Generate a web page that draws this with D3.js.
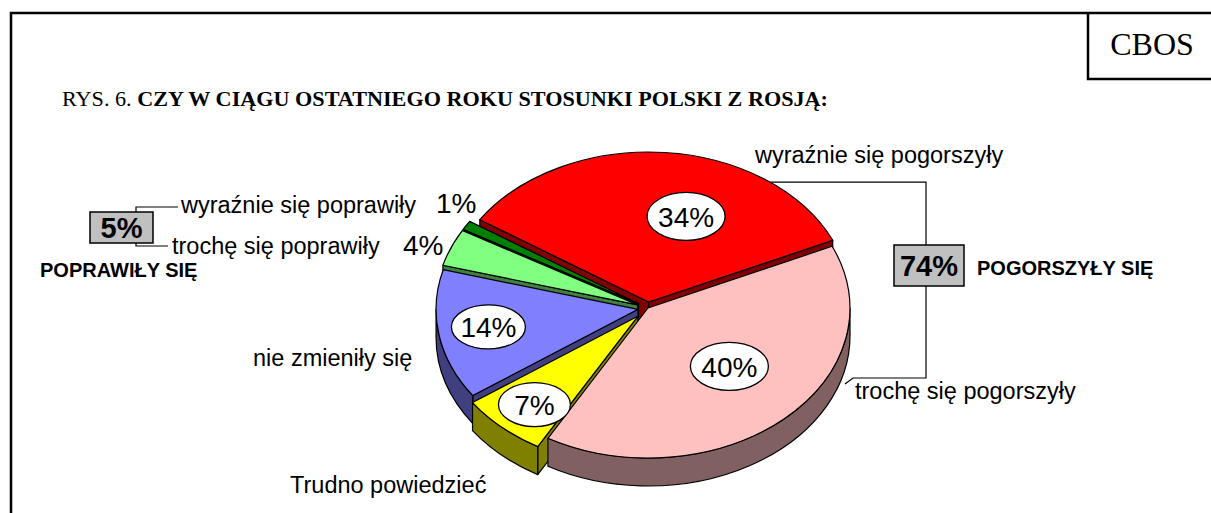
<!DOCTYPE html>
<html lang="pl">
<head>
<meta charset="UTF-8">
<title>CBOS - Rys. 6</title>
<style>
  body { margin: 0; background: #fff; }
  svg { display: block; }
  .sans { font-family: "Liberation Sans", Arial, sans-serif; }
  .serif { font-family: "Liberation Serif", "Times New Roman", serif; }
</style>
</head>
<body>
<div id="graphic"></div>
<script src="https://cdn.jsdelivr.net/npm/d3@7"></script>
<script>
var width = 1211, height = 513;

// slices, clockwise starting from the red one
var categories = ['wyraźnie się pogorszyły', 'trochę się pogorszyły', 'Trudno powiedzieć',
                  'nie zmieniły się', 'trochę się poprawiły', 'wyraźnie się poprawiły'];
var values = [34, 40, 7, 14, 4, 1];
var colors = ['#ff0000', '#ffc0c0', '#ffff00', '#8080ff', '#80ff80', '#008000'];
var groupLabels = ['POGORSZYŁY SIĘ', 'POPRAWIŁY SIĘ'];
var titleNormal = 'RYS. 6. ';
var titleBold = 'CZY W CIĄGU OSTATNIEGO ROKU STOSUNKI POLSKI Z ROSJĄ:';

// pie geometry (3d look)
var cx = 648, cy = 308, rx = 202, ry = 150, depth = 28;
var startDeg = -56.7;
var explode = [0.04, 0, 0.075, 0.05, 0.055, 0.055];

// label layout: inside ellipses [radius fraction, screen angle] or null
var inLabel = [[0.6, -72], [0.56, 44], [0.78, 131], [0.75, 171], null, null];
var inSize = [[39, 24], [39, 24], [36, 22], [37, 22]];
// outside text labels [x, baseline]
var outLabel = [[755, 163], [855, 399], [290, 493], [253, 366], [172, 254], [181, 213]];
var outPct = [null, null, null, null, [403, 255], [436, 213]];

var svg = d3.select('#graphic').append('svg')
    .attr('width', width).attr('height', height);

// frame
svg.append('path')
    .attr('d', 'M11,513 L11,13 L1211,13 M1088,13 L1088,79 L1211,79')
    .attr('fill', 'none').attr('stroke', '#000').attr('stroke-width', 2.5);

svg.append('text').attr('class', 'serif')
    .attr('x', 1152).attr('y', 55).attr('text-anchor', 'middle')
    .attr('font-size', 32).text('CBOS');

var title = svg.append('text').attr('class', 'serif')
    .attr('x', 62).attr('y', 106).attr('font-size', 21)
    .attr('textLength', 766).attr('lengthAdjust', 'spacingAndGlyphs');
title.append('tspan').text(titleNormal);
title.append('tspan').attr('font-weight', 'bold').text(titleBold);

// pie
var pie = d3.pie().sort(null).value(function(d) { return d; })
    .startAngle(startDeg * Math.PI / 180)
    .endAngle(startDeg * Math.PI / 180 + 2 * Math.PI);
var arcs = pie(values);

arcs.forEach(function(d, i) {
    var mid = (d.startAngle + d.endAngle) / 2;
    d.off = [explode[i] * rx * Math.sin(mid), -explode[i] * ry * Math.cos(mid)];
    d.color = colors[i];
    var c = d3.rgb(colors[i]);
    d.side = d3.rgb(c.r / 2, c.g / 2, c.b / 2).toString();
});

function pt(d, a, dz) {
    return [cx + d.off[0] + rx * Math.sin(a), cy + d.off[1] - ry * Math.cos(a) + (dz || 0)];
}
function apex(d, dz) {
    return [cx + d.off[0], cy + d.off[1] + (dz || 0)];
}

// side faces: radial cuts and the front rim
var sides = [];
arcs.forEach(function(d) {
    [[d.startAngle, Math.sin(d.startAngle) < 0], [d.endAngle, Math.sin(d.endAngle) > 0]].forEach(function(e) {
        if (!e[1]) return;
        var a = e[0], r = pt(d, a), c = apex(d);
        sides.push({
            key: (r[1] + c[1]) / 2,
            fill: d.side,
            path: 'M' + c + 'L' + r + 'L' + pt(d, a, depth) + 'L' + apex(d, depth) + 'Z'
        });
    });
    var s = Math.max(d.startAngle, Math.PI / 2), e = Math.min(d.endAngle, 3 * Math.PI / 2);
    if (e > s) {
        sides.push({
            key: pt(d, (s + e) / 2)[1],
            fill: d.side,
            path: 'M' + pt(d, s) + 'A' + rx + ',' + ry + ' 0 0 1 ' + pt(d, e) +
                  'L' + pt(d, e, depth) + 'A' + rx + ',' + ry + ' 0 0 0 ' + pt(d, s, depth) + 'Z'
        });
    }
});
sides.sort(function(a, b) { return a.key - b.key; });

svg.append('g').selectAll('path.side')
    .data(sides)
    .join('path')
    .attr('class', 'side')
    .attr('d', function(d) { return d.path; })
    .attr('fill', function(d) { return d.fill; })
    .attr('stroke', '#000').attr('stroke-width', 1.2).attr('stroke-linejoin', 'round');

svg.append('g').selectAll('path.top')
    .data(arcs)
    .join('path')
    .attr('class', 'top')
    .attr('d', function(d) {
        var large = d.endAngle - d.startAngle > Math.PI ? 1 : 0;
        return 'M' + apex(d) + 'L' + pt(d, d.startAngle) + 'A' + rx + ',' + ry + ' 0 ' + large + ' 1 ' +
               pt(d, d.endAngle) + 'Z';
    })
    .attr('fill', function(d) { return d.color; })
    .attr('stroke', '#000').attr('stroke-width', 1.2).attr('stroke-linejoin', 'round');

// leader lines and group boxes
var redLead = pt(arcs[0], 37 * Math.PI / 180);
svg.append('path')
    .attr('d', 'M' + redLead + 'L926,' + redLead[1] + 'L926,378 L853,378 L845,384' +
               'M178,207 L136,207 L136,246 L168,246')
    .attr('fill', 'none').attr('stroke', '#000').attr('stroke-width', 1.2);

var groups = [
    { v: d3.sum(values.slice(0, 2)), box: [894, 245, 70, 41], label: groupLabels[0], lx: 977, ly: 275 },
    { v: d3.sum(values.slice(4, 6)), box: [90, 212, 63, 31], label: groupLabels[1], lx: 40, ly: 277 }
];
groups.forEach(function(g) {
    svg.append('rect')
        .attr('x', g.box[0]).attr('y', g.box[1]).attr('width', g.box[2]).attr('height', g.box[3])
        .attr('fill', '#c0c0c0').attr('stroke', '#000').attr('stroke-width', 1.5);
    svg.append('text').attr('class', 'sans')
        .attr('x', g.box[0] + g.box[2] / 2).attr('y', g.box[1] + g.box[3] / 2 + 10.5)
        .attr('text-anchor', 'middle').attr('font-size', 29).attr('font-weight', 'bold')
        .text(g.v + '%');
    svg.append('text').attr('class', 'sans')
        .attr('x', g.lx).attr('y', g.ly)
        .attr('font-size', 20).attr('font-weight', 'bold')
        .text(g.label);
});

// percentages in white ellipses
arcs.forEach(function(d, i) {
    if (!inLabel[i]) return;
    var t = inLabel[i][1] * Math.PI / 180;
    var x = cx + d.off[0] + inLabel[i][0] * rx * Math.cos(t);
    var y = cy + d.off[1] + inLabel[i][0] * ry * Math.sin(t);
    svg.append('ellipse')
        .attr('cx', x).attr('cy', y).attr('rx', inSize[i][0]).attr('ry', inSize[i][1])
        .attr('fill', '#fff').attr('stroke', '#000').attr('stroke-width', 1.3);
    svg.append('text').attr('class', 'sans')
        .attr('x', x).attr('y', y + 10.5).attr('text-anchor', 'middle')
        .attr('font-size', 28).text(values[i] + '%');
});

// category names
svg.append('g').selectAll('text.cat')
    .data(categories)
    .join('text')
    .attr('class', 'sans cat')
    .attr('x', function(d, i) { return outLabel[i][0]; })
    .attr('y', function(d, i) { return outLabel[i][1]; })
    .attr('font-size', 23.5)
    .text(function(d) { return d; });

// percentages of the two thin slices, written outside
var outside = values.map(function(v, i) { return { v: v, pos: outPct[i] }; })
    .filter(function(d) { return d.pos; });
svg.append('g').selectAll('text.pct')
    .data(outside)
    .join('text')
    .attr('class', 'sans pct')
    .attr('x', function(d) { return d.pos[0]; })
    .attr('y', function(d) { return d.pos[1]; })
    .attr('font-size', 28)
    .text(function(d) { return d.v + '%'; });
</script>
</body>
</html>
